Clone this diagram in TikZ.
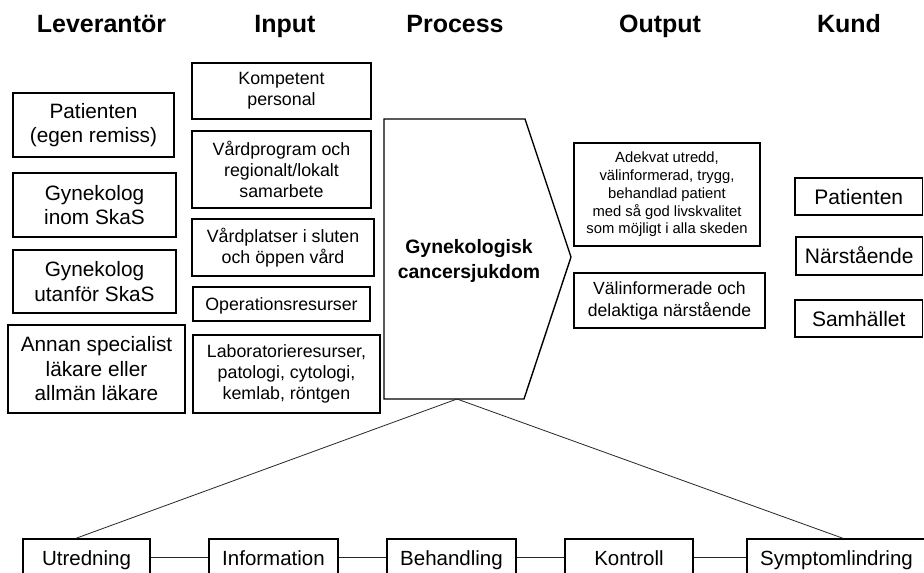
\documentclass[tikz,border=0pt]{standalone}
\usepackage{fontspec}
\setmainfont{Liberation Sans}
\newcommand{\fsz}[2]{\fontsize{#1}{#2}\selectfont}
\tikzset{
  bx/.style={draw, line width=1.4pt, inner sep=0pt, align=center, text=black},
  hdr/.style={font=\bfseries\fsz{25}{30}, anchor=base, inner sep=0pt},
  lev/.style={bx, font=\fsz{20.8}{24.5}},
  inp/.style={bx, font=\fsz{17.8}{21.3}},
  outa/.style={bx, font=\fsz{14.8}{17.8}},
  outb/.style={bx, font=\fsz{17.6}{22}},
  kund/.style={bx, font=\fsz{21}{25}, text height=15pt, text depth=0pt},
  stg/.style={bx, font=\fsz{20.5}{24}, minimum height=36pt, text height=16pt, text depth=0pt},
  conn/.style={draw=black!85, line width=0.8pt},
  chev/.style={draw, line width=1.4pt}
}
\begin{document}
\begin{tikzpicture}[x=1pt,y=-1pt]
\useasboundingbox (0,0) rectangle (924,573);
\clip (0,0) rectangle (924,573);
\fill[white] (0,0) rectangle (924,573);

% headers
\node[hdr] (h1) at (101.5,32) {Leverantör};
\node[hdr] (h2) at (285,32) {Input};
\node[hdr] (h3) at (455,32) {Process};
\node[hdr] (h4) at (660,32) {Output};
\node[hdr] (h5) at (849,32) {Kund};

% Leverantör
\node[lev, minimum width=161pt, minimum height=64pt] (l1) at (93.5,125) {Patienten\\(egen remiss)};
\node[lev, minimum width=163pt, minimum height=64pt] (l2) at (94.5,205) {Gynekolog\\inom SkaS};
\node[lev, minimum width=163pt, minimum height=63pt] (l3) at (94.5,281.5) {Gynekolog\\utanför SkaS};
\node[lev, minimum width=177pt, minimum height=88pt] (l4) at (96.5,369) {Annan specialist\\läkare eller\\allmän läkare};

% Input
\node[inp, minimum width=179pt, minimum height=56pt] (i1) at (281.5,91) {Kompetent\\personal};
\node[inp, minimum width=179pt, minimum height=77pt] (i2) at (281.5,169.5) {Vårdprogram och\\regionalt/lokalt\\samarbete};
\node[inp, minimum width=182pt, minimum height=57pt] (i3) at (283,247.5) {Vårdplatser i sluten\\och öppen vård};
\node[inp, minimum width=177pt, minimum height=34pt, text height=13pt, text depth=0pt] (i4) at (281.5,304) {Operationsresurser};
\node[inp, minimum width=187pt, minimum height=78pt] (i5) at (286.5,374) {Laboratorieresurser,\\patologi, cytologi,\\kemlab, röntgen};

% Process chevron
\draw[chev] (384,119) -- (525,119) -- (571,257) -- (524,399) -- (384,399) -- cycle;
\node[font=\bfseries\fsz{19.4}{25}, align=center, inner sep=0pt] (proc) at (469,261) {Gynekologisk\\cancersjukdom};
\coordinate (apex) at (457,399);

% Output
\node[outa, minimum width=186pt, minimum height=103pt] (o1) at (667,194.5) {Adekvat utredd,\\välinformerad, trygg,\\behandlad patient\\med så god livskvalitet\\som möjligt i alla skeden};
\node[outb, minimum width=191pt, minimum height=55pt] (o2) at (669.5,300.5) {Välinformerade och\\delaktiga närstående};

% Kund
\node[kund, minimum width=127.5pt, minimum height=37pt] (k1) at (858.75,196.5) {Patienten};
\node[kund, minimum width=126.5pt, minimum height=38pt] (k2) at (859.25,256) {Närstående};
\node[kund, minimum width=127.5pt, minimum height=37pt] (k3) at (858.75,318.5) {Samhället};

% Stages
\node[stg, minimum width=127pt] (b1) at (86.5,557) {Utredning};
\node[stg, minimum width=129pt] (b2) at (273.5,557) {Information};
\node[stg, minimum width=129pt] (b3) at (451.5,557) {Behandling};
\node[stg, minimum width=128pt] (b4) at (629,557) {Kontroll};
\node[stg, minimum width=179pt] (b5) at (836.5,557) {Symptomlindring};

\draw[conn] (apex) -- ([xshift=-10.5pt]b1.north);
\draw[conn] (apex) -- ([xshift=6.5pt]b5.north);
\draw[conn] (b1.east) -- (b2.west);
\draw[conn] (b2.east) -- (b3.west);
\draw[conn] (b3.east) -- (b4.west);
\draw[conn] (b4.east) -- (b5.west);
\end{tikzpicture}
\end{document}
